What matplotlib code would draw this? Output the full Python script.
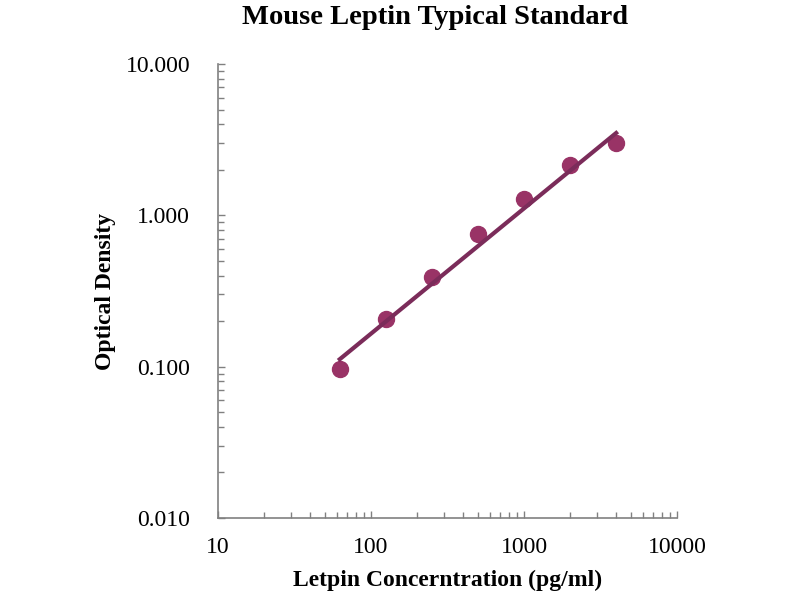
import matplotlib
matplotlib.use("Agg")
import matplotlib.pyplot as plt
import numpy as np
from matplotlib.ticker import FixedLocator, LogLocator, NullFormatter

plt.rcParams['font.family'] = ['Liberation Serif', 'DejaVu Serif']

# standard points
conc = [62.5, 125, 250, 500, 1000, 2000, 4000]
od = [0.096, 0.207, 0.389, 0.752, 1.29, 2.15, 3.02]

# trend line ends
fit_x = [62.5, 4000]
fit_y = [0.112, 3.5]

xticks = [10, 100, 1000, 10000]
xlabels = ["10", "100", "1000", "10000"]
yticks = [0.01, 0.1, 1, 10]
ylabels = ["0.010", "0.100", "1.000", "10.000"]

fig = plt.figure(figsize=(8, 6), dpi=100)
ax = fig.add_axes([0.2725, 0.1367, 0.5738, 0.7566])

ax.plot(conc, od, "o", color="#993366", markersize=11.5, zorder=3)
ax.plot(fit_x, fit_y, "-", color="#7b2c5a", linewidth=3, zorder=4)

ax.set_xscale("log")
ax.set_yscale("log")
ax.set_xlim(10, 10000)
ax.set_ylim(0.01, 10)

ax.xaxis.set_major_locator(FixedLocator(xticks))
ax.set_xticklabels(xlabels)
ax.yaxis.set_major_locator(FixedLocator(yticks))
ax.set_yticklabels(ylabels)
ax.xaxis.set_minor_locator(LogLocator(base=10, subs=np.arange(2, 10)))
ax.yaxis.set_minor_locator(LogLocator(base=10, subs=np.arange(2, 10)))
ax.xaxis.set_minor_formatter(NullFormatter())
ax.yaxis.set_minor_formatter(NullFormatter())

for side in ["top", "right"]:
    ax.spines[side].set_visible(False)
for side in ["left", "bottom"]:
    ax.spines[side].set_color("#808080")
    ax.spines[side].set_linewidth(1.2)

ax.tick_params(which="both", direction="in", color="#808080")
ax.tick_params(which="major", length=5, width=1, labelsize=17)
ax.tick_params(axis="y", which="major", pad=20)
ax.tick_params(axis="x", which="major", pad=14)
ax.tick_params(which="minor", length=4, width=1)

fig.text(0.544, 1 - 18 / 600, "Mouse Leptin Typical Standard", fontsize=20.5,
         fontweight="bold", ha="center", va="center")
ax.set_xlabel("Letpin Concerntration (pg/ml)", fontsize=17, fontweight="bold")
ax.set_ylabel("Optical Density", fontsize=17, fontweight="bold")
ax.xaxis.set_label_coords(0.5, -0.1366)
ax.yaxis.set_label_coords(-0.246, 0.5)
ax.xaxis.label.set_va("center")
ax.yaxis.label.set_va("center")

fig.savefig("out.png", dpi=100)
